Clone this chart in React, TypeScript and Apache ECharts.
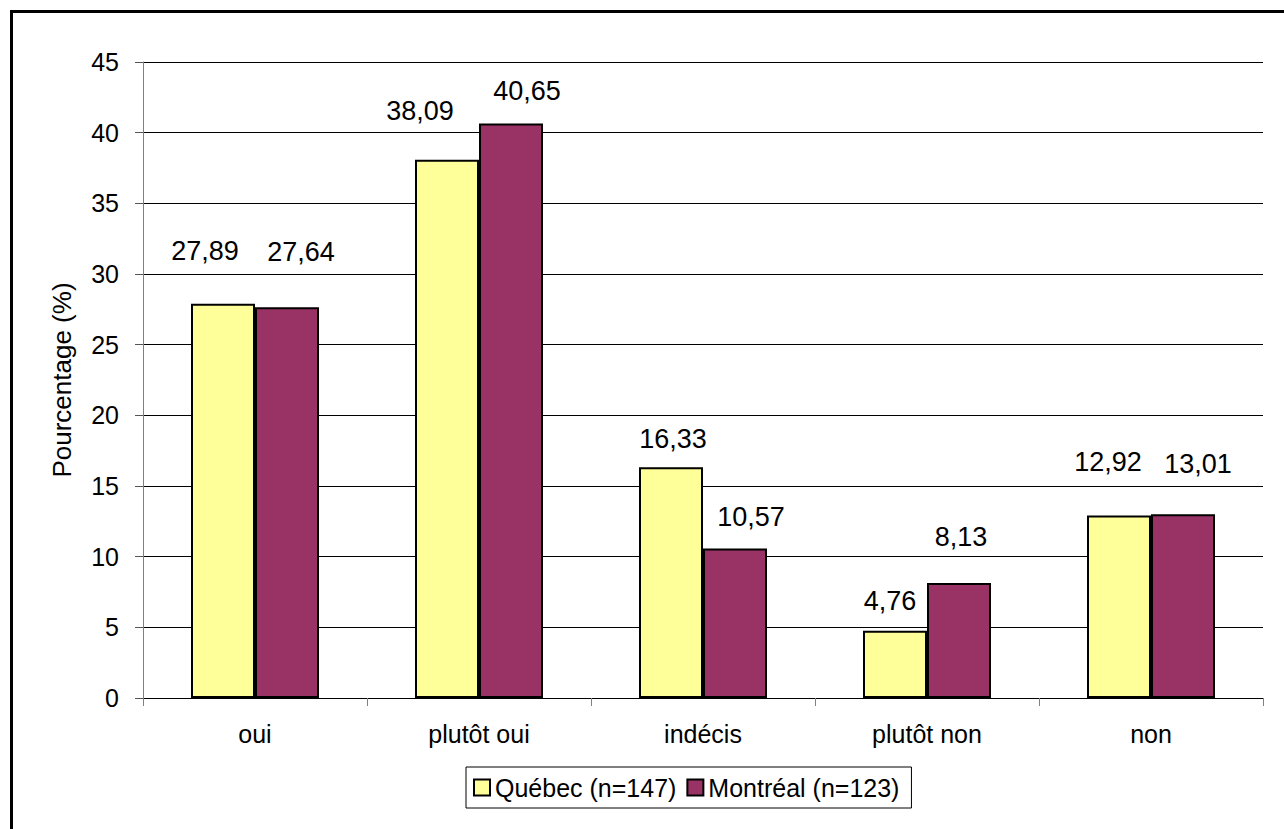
import React, { useEffect, useRef } from "react";
import * as echarts from "echarts";

// Survey answers (percentages) for two cities
const categories = ["oui", "plutôt oui", "indécis", "plutôt non", "non"];
const quebec = [27.89, 38.09, 16.33, 4.76, 12.92];
const montreal = [27.64, 40.65, 10.57, 8.13, 13.01];
const seriesNames = ["Québec (n=147)", "Montréal (n=123)"];
const yTicks = { min: 0, max: 45, interval: 5 };

// Hand-placed label nudges [dx, dy] per bar (styling only)
const quebecLabelNudge = [
  [-18, -39],
  [-27, -35],
  [2, -15],
  [-5, -16],
  [-11, -40],
];
const montrealLabelNudge = [
  [14, -42],
  [16, -19],
  [16, -18],
  [2, -33],
  [15, -37],
];

const FONT = "'Liberation Sans', Arial, Helvetica, sans-serif";
const fmt = (v: number) => v.toFixed(2).replace(".", ",");

function buildData(values: number[], nudges: number[][]) {
  return values.map((v, i) => ({
    value: v,
    label: { offset: nudges[i] },
  }));
}

export default function App() {
  const ref = useRef<HTMLDivElement>(null);

  useEffect(() => {
    if (!ref.current) return;
    const chart = echarts.init(ref.current, undefined, { renderer: "svg" });

    const barLabel = {
      show: true,
      position: "top" as const,
      distance: 0,
      color: "#000",
      fontFamily: FONT,
      fontSize: 27,
      formatter: (p: any) => fmt(p.value),
    };

    chart.setOption({
      animation: false,
      backgroundColor: "#fff",
      textStyle: { fontFamily: FONT },
      graphic: [
        {
          type: "rect",
          shape: { x: 11.5, y: 11.5, width: 1320, height: 860 },
          style: { fill: "none", stroke: "#000", lineWidth: 3 },
          silent: true,
        },
      ],
      grid: { left: 143, right: 21, top: 62, bottom: 131 },
      legend: {
        left: 466,
        top: 767,
        orient: "horizontal",
        data: seriesNames,
        icon: "rect",
        itemWidth: 16,
        itemHeight: 16,
        itemGap: 10,
        padding: [8, 12, 8, 7],
        borderColor: "#000",
        borderWidth: 1,
        backgroundColor: "#fff",
        textStyle: { fontFamily: FONT, fontSize: 25, color: "#000" },
      },
      xAxis: {
        type: "category",
        data: categories,
        axisLine: { show: true, lineStyle: { color: "#000", width: 1 } },
        axisTick: {
          show: true,
          inside: false,
          length: 8,
          lineStyle: { color: "#808080", width: 1 },
        },
        axisLabel: {
          color: "#000",
          fontFamily: FONT,
          fontSize: 25,
          margin: 23,
        },
        splitLine: { show: false },
      },
      yAxis: {
        type: "value",
        min: yTicks.min,
        max: yTicks.max,
        interval: yTicks.interval,
        name: "Pourcentage (%)",
        nameLocation: "middle",
        nameGap: 68,
        nameRotate: 90,
        nameTextStyle: { fontFamily: FONT, fontSize: 26, color: "#000" },
        axisLine: { show: true, lineStyle: { color: "#808080", width: 1 } },
        axisTick: {
          show: true,
          inside: false,
          length: 8,
          lineStyle: { color: "#555", width: 1 },
        },
        axisLabel: {
          color: "#000",
          fontFamily: FONT,
          fontSize: 25,
          margin: 24,
        },
        splitLine: { show: true, lineStyle: { color: "#000", width: 1 } },
      },
      series: [
        {
          name: seriesNames[0],
          type: "bar",
          data: buildData(quebec, quebecLabelNudge),
          barWidth: 64,
          barGap: "0%",
          itemStyle: { color: "#FFFF99", borderColor: "#000", borderWidth: 2 },
          label: barLabel,
        },
        {
          name: seriesNames[1],
          type: "bar",
          data: buildData(montreal, montrealLabelNudge),
          barWidth: 64,
          barGap: "0%",
          itemStyle: { color: "#993366", borderColor: "#000", borderWidth: 2 },
          label: barLabel,
        },
      ],
    });

    return () => chart.dispose();
  }, []);

  return (
    <div
      ref={ref}
      style={{ position: "absolute", left: 0, top: 0, width: 1284, height: 829 }}
    />
  );
}
